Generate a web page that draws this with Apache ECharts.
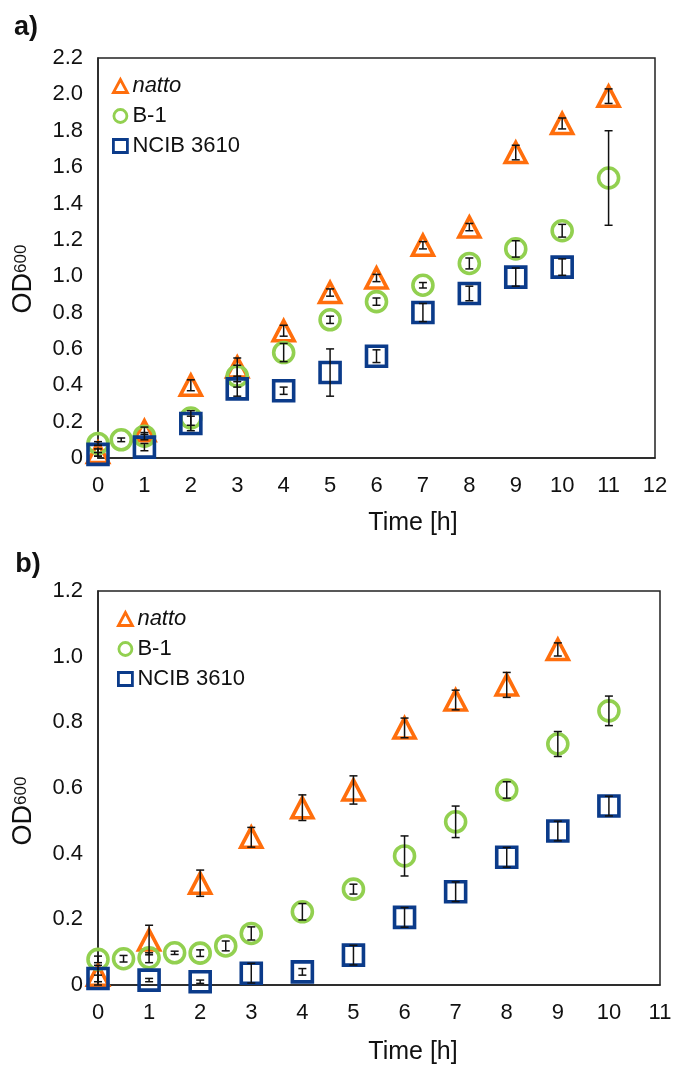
<!DOCTYPE html>
<html><head><meta charset="utf-8">
<script src="https://cdn.jsdelivr.net/npm/echarts@6/dist/echarts.min.js"></script>
<style>html,body{margin:0;padding:0;background:#fff}#c{width:675px;height:1065px}</style>
</head><body><div id="c"></div>
<script>
// ---- Panel a data ----
const aNattoT = [0,1,2,3,4,5,6,7,8,9,10,11];
const aNattoY = [0.03,0.15,0.40,0.50,0.70,0.91,0.99,1.17,1.27,1.68,1.84,1.99];
const aNattoE = [0.02,0.02,0.03,0.05,0.03,0.02,0.02,0.02,0.02,0.04,0.03,0.04];
const aB1T = [0,0.5,1,2,3,4,5,6,7,8,9,10,11];
const aB1Y = [0.08,0.10,0.12,0.22,0.45,0.58,0.76,0.86,0.95,1.07,1.15,1.25,1.54];
const aB1E = [0.01,0.01,0.02,0.04,0.06,0.05,0.02,0.02,0.015,0.03,0.045,0.035,0.26];
const aNcibT = [0,1,2,3,4,5,6,7,8,9,10];
const aNcibY = [0.02,0.06,0.19,0.38,0.37,0.47,0.56,0.80,0.905,0.995,1.05];
const aNcibE = [0.01,0.02,0.04,0.04,0.02,0.13,0.035,0.05,0.04,0.05,0.045];
// ---- Panel b data ----
const bNattoT = [0,1,2,3,4,5,6,7,8,9];
const bNattoY = [0.03,0.137,0.31,0.45,0.54,0.594,0.783,0.868,0.914,1.022];
const bNattoE = [0.03,0.045,0.04,0.03,0.039,0.043,0.03,0.03,0.038,0.02];
const bB1T = [0,0.5,1,1.5,2,2.5,3,4,5,6,7,8,9,10];
const bB1Y = [0.078,0.08,0.083,0.098,0.097,0.119,0.157,0.223,0.292,0.393,0.497,0.594,0.734,0.835];
const bB1E = [0.01,0.01,0.015,0.005,0.01,0.015,0.02,0.025,0.015,0.061,0.048,0.025,0.038,0.045];
const bNcibT = [0,1,2,3,4,5,6,7,8,9,10];
const bNcibY = [0.02,0.015,0.01,0.036,0.04,0.091,0.206,0.284,0.389,0.469,0.545];
const bNcibE = [0.01,0.005,0.005,0.03,0.01,0.03,0.03,0.03,0.03,0.03,0.03];

const names = ['natto','B-1','NCIB 3610'];
const xTicksA = [0,12,1];
const yTicksA = [0,2.2,0.2];
const xTicksB = [0,11,1];
const yTicksB = [0,1.2,0.2];

const ORANGE = '#FF6E0C', GREEN = '#92D050', BLUE = '#0B3B8A';
const FONT = 'Liberation Sans, Arial, sans-serif';

function pts(T, Y){ return T.map((t,i)=>[t, Y[i]]); }
function errs(T, Y, E){ return T.map((t,i)=>[t, Y[i], E[i]]); }

function scatter(name, sym, size, color, T, Y, gi){
  return {
    type:'scatter', name, xAxisIndex:gi, yAxisIndex:gi, symbol:sym, symbolSize:size,
    clip:false, data:pts(T,Y),
    itemStyle:{color:'rgba(255,255,255,0)', borderColor:color, borderWidth:3.6, opacity:1},
    emphasis:{disabled:true}, z:2
  };
}
function errSeries(T, Y, E, gi){
  return {
    type:'custom', xAxisIndex:gi, yAxisIndex:gi, clip:false, z:5, silent:true,
    data:errs(T,Y,E),
    renderItem:function(params, api){
      const x = api.value(0), y = api.value(1), e = api.value(2);
      const top = api.coord([x, y+e]), bot = api.coord([x, y-e]);
      const cw = 4;
      const st = {stroke:'#111', lineWidth:1.5};
      return {type:'group', children:[
        {type:'line', shape:{x1:top[0],y1:top[1],x2:bot[0],y2:bot[1]}, style:st},
        {type:'line', shape:{x1:top[0]-cw,y1:top[1],x2:top[0]+cw,y2:top[1]}, style:st},
        {type:'line', shape:{x1:bot[0]-cw,y1:bot[1],x2:bot[0]+cw,y2:bot[1]}, style:st}
      ]};
    }
  };
}

function xAxis(gi, t){
  return {type:'value', gridIndex:gi, min:t[0], max:t[1], interval:t[2],
    axisLine:{show:true, onZero:false, lineStyle:{color:'#222', width:1.5}},
    axisTick:{show:false}, splitLine:{show:false},
    axisLabel:{color:'#111', fontSize:22, fontFamily:FONT, margin:17}};
}
function yAxis(gi, t){
  return {type:'value', gridIndex:gi, min:t[0], max:t[1], interval:t[2],
    axisLine:{show:true, lineStyle:{color:'#222', width:1.5}},
    axisTick:{show:false}, splitLine:{show:false},
    axisLabel:{color:'#111', fontSize:22, fontFamily:FONT, margin:15,
      formatter:v => v===0 ? '0' : v.toFixed(1)}};
}
function legend(left, top){
  return {orient:'vertical', left, top, padding:0, itemWidth:14, itemHeight:13, itemGap:8, itemTextGap:13,
    data:names, selectedMode:false,
    itemStyle:{borderWidth:2.8},
    textStyle:{fontSize:22, fontFamily:FONT, color:'#111', lineHeight:22,
      rich:{i:{fontStyle:'italic', fontSize:22, fontFamily:FONT, color:'#111'}}},
    formatter:n => n==='natto' ? '{i|natto}' : n};
}
function yTitle(x, y){
  return {type:'text', x, y, rotation:Math.PI/2,
    style:{text:'{a|OD}{b|600}', align:'center', verticalAlign:'middle',
      rich:{a:{fontSize:27, fontFamily:FONT, fill:'#111', verticalAlign:'top'},
            b:{fontSize:17, fontFamily:FONT, fill:'#111', verticalAlign:'top', padding:[2,0,0,0]}}}};
}
function txt(text, x, y, size, bold){
  return {type:'text', x, y, style:{text, fontSize:size, fontFamily:FONT, fontWeight:bold?'bold':'normal',
    fill:'#111', align:'center', verticalAlign:'middle'}};
}

const chart = echarts.init(document.getElementById('c'), null, {renderer:'canvas'});
chart.setOption({
  animation:false,
  grid:[
    {left:98, top:58, width:557, height:400, show:true, borderColor:'#222', borderWidth:1.5, backgroundColor:'transparent'},
    {left:98, top:591, width:562, height:394, show:true, borderColor:'#222', borderWidth:1.5, backgroundColor:'transparent'}
  ],
  xAxis:[xAxis(0,xTicksA), xAxis(1,xTicksB)],
  yAxis:[yAxis(0,yTicksA), yAxis(1,yTicksB)],
  legend:[legend(112,75), legend(117,608)],
  series:[
    scatter('natto','triangle',[21,20],ORANGE,aNattoT,aNattoY,0),
    scatter('B-1','circle',20,GREEN,aB1T,aB1Y,0),
    scatter('NCIB 3610','rect',20,BLUE,aNcibT,aNcibY,0),
    errSeries(aNattoT,aNattoY,aNattoE,0),
    errSeries(aB1T,aB1Y,aB1E,0),
    errSeries(aNcibT,aNcibY,aNcibE,0),
    scatter('natto','triangle',[21,20],ORANGE,bNattoT,bNattoY,1),
    scatter('B-1','circle',20,GREEN,bB1T,bB1Y,1),
    scatter('NCIB 3610','rect',20,BLUE,bNcibT,bNcibY,1),
    errSeries(bNattoT,bNattoY,bNattoE,1),
    errSeries(bB1T,bB1Y,bB1E,1),
    errSeries(bNcibT,bNcibY,bNcibE,1)
  ],
  graphic:[
    txt('a)', 26, 28, 27, true),
    txt('b)', 28, 565, 27, true),
    txt('Time [h]', 413, 523, 25, false),
    txt('Time [h]', 413, 1052, 25, false),
    yTitle(24, 279),
    yTitle(24, 811)
  ]
});
</script></body></html>
